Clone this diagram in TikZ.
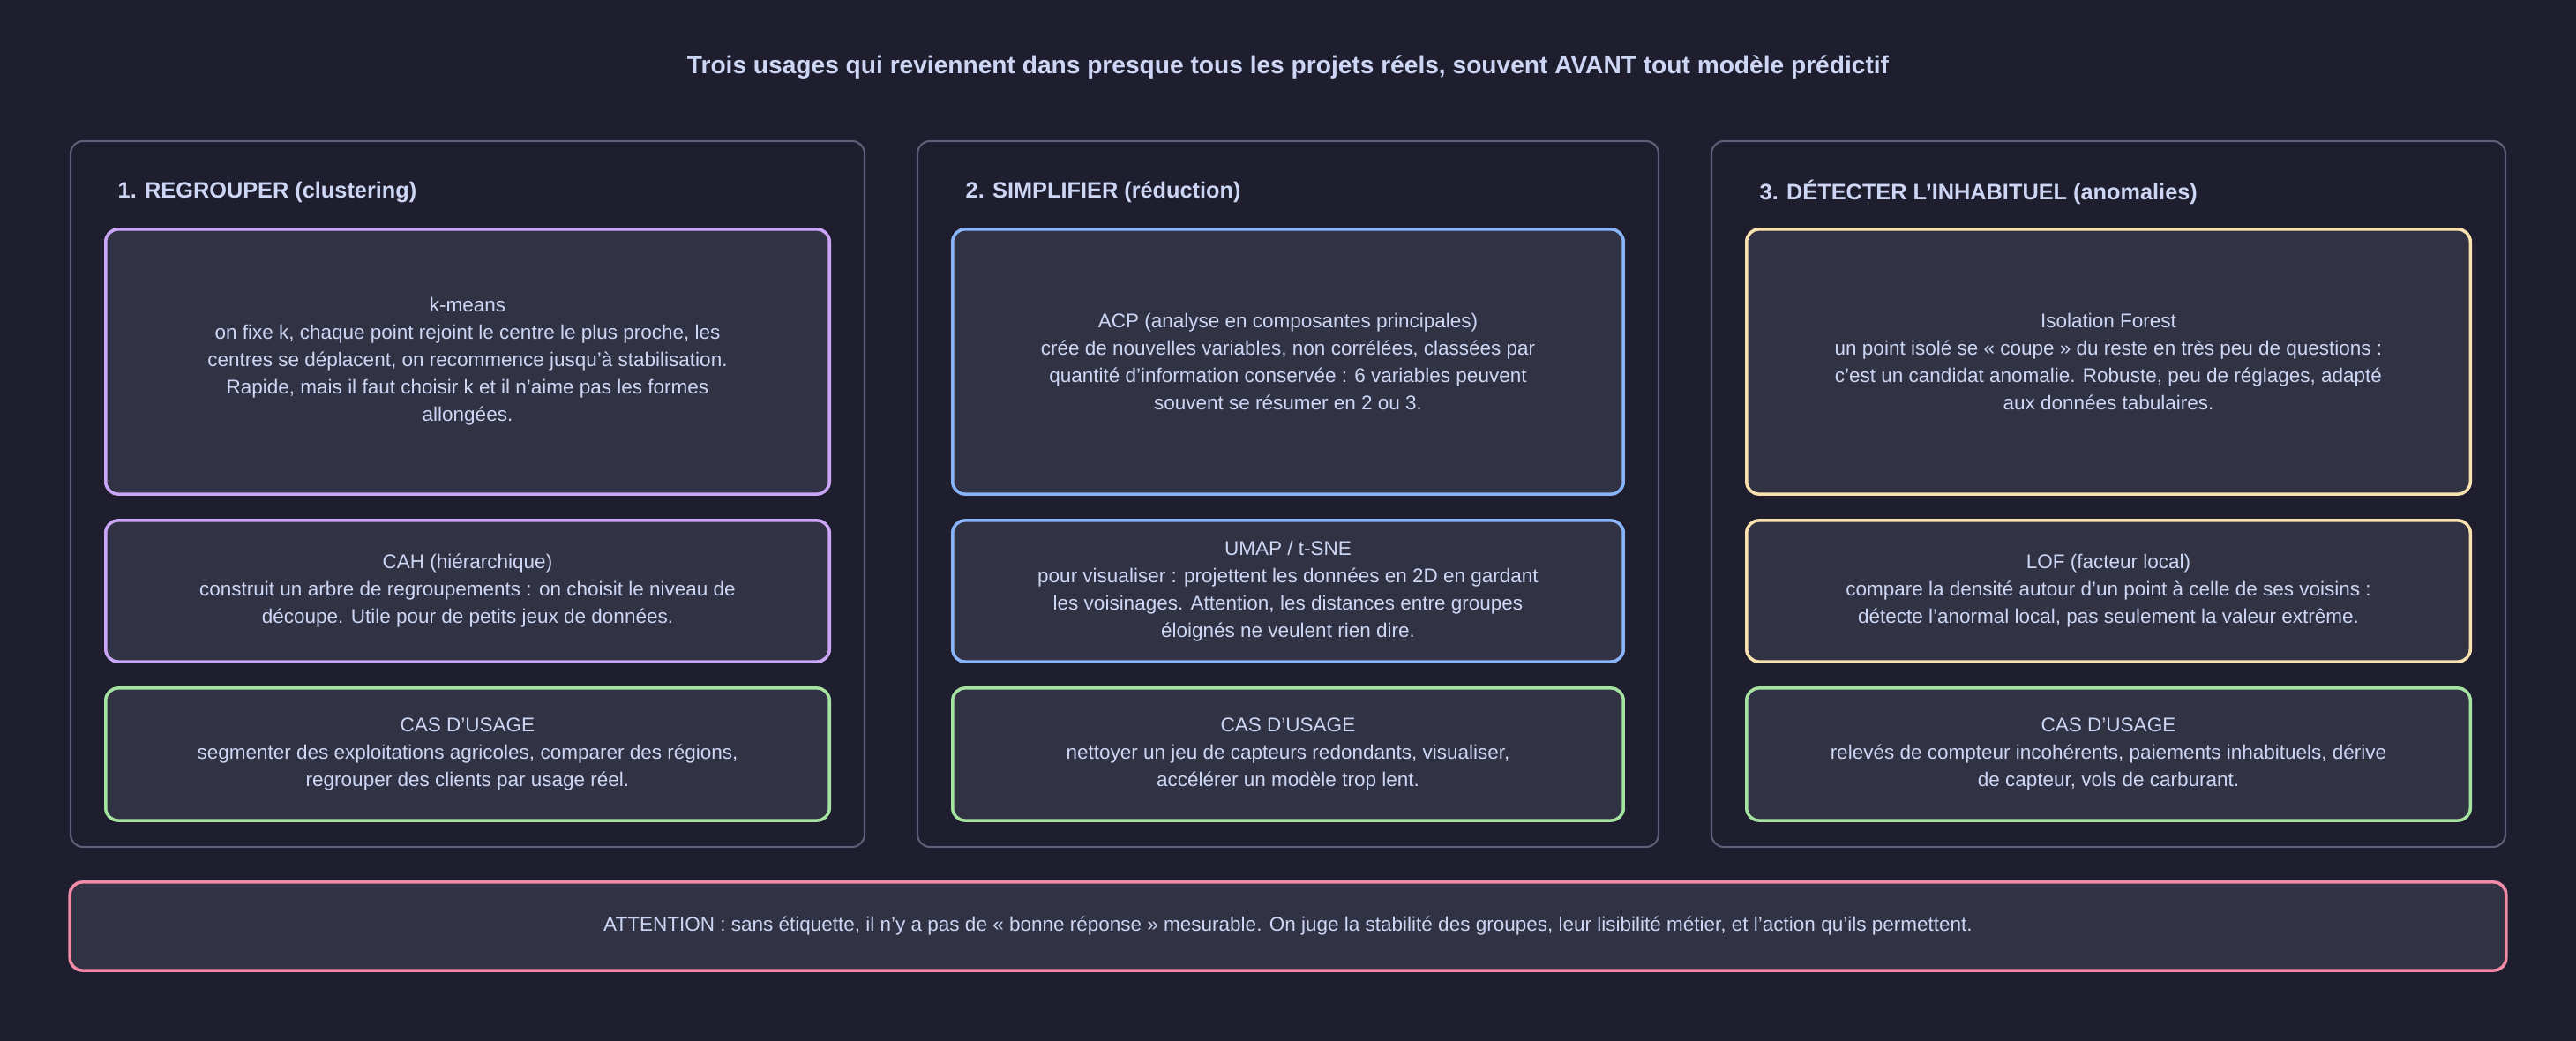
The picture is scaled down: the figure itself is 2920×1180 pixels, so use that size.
\documentclass[tikz,border=0pt]{standalone}
\usepackage{fontspec}
\setmainfont{Liberation Sans}
\definecolor{bgcol}{HTML}{1E1E2E}
\definecolor{cardcol}{HTML}{313244}
\definecolor{txtcol}{HTML}{CDD6F4}
\definecolor{framecol}{HTML}{5C5F77}
\definecolor{mauvecol}{HTML}{CBA6F7}
\definecolor{bluecol}{HTML}{89B4FA}
\definecolor{yellowcol}{HTML}{F9E2AF}
\definecolor{greencol}{HTML}{A6E3A1}
\definecolor{redcol}{HTML}{F38BA8}
\tikzset{
  column/.style={draw=framecol, line width=0.6pt, rounded corners=4pt, fill=bgcol},
  card/.style={draw=#1, line width=1pt, rounded corners=4pt, fill=cardcol,
    text=txtcol, align=center, font=\fontsize{6.4}{8.8}\selectfont, inner sep=0pt},
  head/.style={text=txtcol, anchor=west, font=\fontsize{7.2}{8.6}\selectfont\bfseries, inner sep=0pt},
}
\begin{document}
\begin{tikzpicture}[x=0.01cm, y=-0.01cm]
\fill[bgcol] (0,0) rectangle (2920,1180);
\useasboundingbox (0,0) rectangle (2920,1180);
\node[text=txtcol, font=\fontsize{8}{9.6}\selectfont\bfseries] (title) at (1460,76)
  {Trois usages qui reviennent dans presque tous les projets réels, souvent AVANT tout modèle prédictif};
% columns
\draw[column] (80,160) rectangle (980,960);
\draw[column] (1040,160) rectangle (1880,960);
\draw[column] (1940,160) rectangle (2840,960);
\node[head] (h1) at (133,218) {1. REGROUPER (clustering)};
\node[head] (h2) at (1094,218) {2. SIMPLIFIER (réduction)};
\node[head] (h3) at (1994,218) {3. DÉTECTER L'INHABITUEL (anomalies)};
% column 1
\node[card=mauvecol, minimum width=8.2cm, minimum height=3cm] (kmeans) at (530,410)
  {k-means\\on fixe k, chaque point rejoint le centre le plus proche, les\\centres se déplacent, on recommence jusqu'à stabilisation.\\Rapide, mais il faut choisir k et il n'aime pas les formes\\allongées.};
\node[card=mauvecol, minimum width=8.2cm, minimum height=1.6cm] (cah) at (530,670)
  {CAH (hiérarchique)\\construit un arbre de regroupements : on choisit le niveau de\\découpe. Utile pour de petits jeux de données.};
\node[card=greencol, minimum width=8.2cm, minimum height=1.5cm] (cas1) at (530,855)
  {CAS D'USAGE\\segmenter des exploitations agricoles, comparer des régions,\\regrouper des clients par usage réel.};
% column 2
\node[card=bluecol, minimum width=7.6cm, minimum height=3cm] (acp) at (1460,410)
  {ACP (analyse en composantes principales)\\crée de nouvelles variables, non corrélées, classées par\\quantité d'information conservée : 6 variables peuvent\\souvent se résumer en 2 ou 3.};
\node[card=bluecol, minimum width=7.6cm, minimum height=1.6cm] (umap) at (1460,670)
  {UMAP / t-SNE\\pour visualiser : projettent les données en 2D en gardant\\les voisinages. Attention, les distances entre groupes\\éloignés ne veulent rien dire.};
\node[card=greencol, minimum width=7.6cm, minimum height=1.5cm] (cas2) at (1460,855)
  {CAS D'USAGE\\nettoyer un jeu de capteurs redondants, visualiser,\\accélérer un modèle trop lent.};
% column 3
\node[card=yellowcol, minimum width=8.2cm, minimum height=3cm] (iforest) at (2390,410)
  {Isolation Forest\\un point isolé se « coupe » du reste en très peu de questions :\\c'est un candidat anomalie. Robuste, peu de réglages, adapté\\aux données tabulaires.};
\node[card=yellowcol, minimum width=8.2cm, minimum height=1.6cm] (lof) at (2390,670)
  {LOF (facteur local)\\compare la densité autour d'un point à celle de ses voisins :\\détecte l'anormal local, pas seulement la valeur extrême.};
\node[card=greencol, minimum width=8.2cm, minimum height=1.5cm] (cas3) at (2390,855)
  {CAS D'USAGE\\relevés de compteur incohérents, paiements inhabituels, dérive\\de capteur, vols de carburant.};
% warning
\node[card=redcol, minimum width=27.6cm, minimum height=1cm] (warn) at (1460,1050)
  {ATTENTION : sans étiquette, il n'y a pas de « bonne réponse » mesurable. On juge la stabilité des groupes, leur lisibilité métier, et l'action qu'ils permettent.};
\end{tikzpicture}
\end{document}
